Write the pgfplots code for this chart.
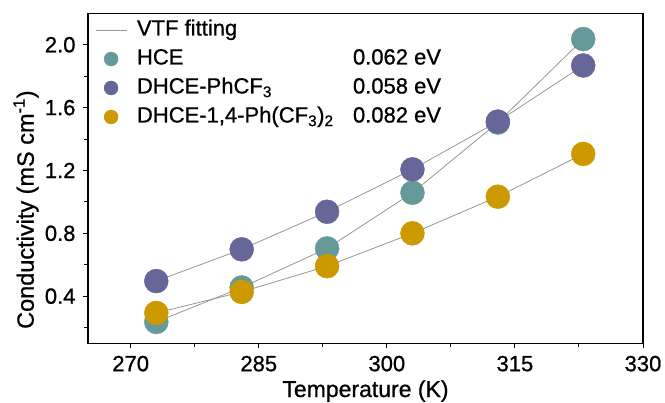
\documentclass[border=0pt]{standalone}
\usepackage{fontspec}
\setmainfont{Liberation Sans}[FakeBold=0.8]
\usepackage{pgfplots}
\pgfplotsset{compat=1.18}
\definecolor{hce}{RGB}{102,153,153}
\definecolor{phc}{RGB}{102,102,153}
\definecolor{dhc}{RGB}{204,153,0}
\definecolor{fitgray}{RGB}{150,150,150}
\newcommand{\fs}{\fontsize{22bp}{26bp}\selectfont}
\begin{document}
\fs
\begin{tikzpicture}
\path[use as bounding box] (-88bp,-59.7bp) rectangle (577bp,343.3bp);
\begin{axis}[
  at={(0,0)}, anchor=south west,
  scale only axis, width=555bp, height=330bp,
  xmin=265, xmax=330, ymin=0.1, ymax=2.2,
  xtick={270,285,300,315,330},
  ytick={0.4,0.8,1.2,1.6,2.0},
  minor xtick={277.5,292.5,307.5,322.5},
  minor ytick={0.2,0.6,1.0,1.4,1.8},
  yticklabel style={/pgf/number format/fixed, /pgf/number format/precision=1, /pgf/number format/fixed zerofill},
  /pgf/number format/assume math mode=true,
  tick align=outside, xtick pos=bottom, ytick pos=left,
  major tick length=5bp, minor tick length=3.5bp,
  axis line style={line width=1.2bp},
  every tick/.style={black, line width=1bp},
  tick label style={font=\fs},
  label style={font=\fs},
  xlabel={Temperature (K)},
  ylabel={Conductivity (mS cm\textsuperscript{-1})},
  xlabel style={at={(axis description cs:0.5,0)}, anchor=base, yshift=-53.7bp, font=\fontsize{23bp}{27bp}\selectfont},
  ylabel style={at={(axis description cs:-0.1117,0.405)}, anchor=center, font=\fontsize{23.5bp}{27bp}\selectfont},
  legend style={at={(axis description cs:0,1)}, anchor=north west, xshift=4bp, yshift=-4bp,
    draw=none, fill=none, font=\fs, row sep=8bp, column sep=10bp,
    nodes={inner sep=0pt, text height=16bp, text depth=5bp}},
  legend cell align=left,
]
\addplot[fitgray, line width=0.8bp, legend image code/.code={\draw[fitgray, line width=0.8bp] (0bp,0bp) -- (31bp,0bp);}]
  coordinates {(273,0.236) (283,0.455) (293,0.704) (303,1.058) (313,1.505) (323,2.036)};
\addlegendentry{VTF fitting}
\addplot[fitgray, line width=0.8bp, forget plot]
  coordinates {(273,0.496) (283,0.698) (293,0.937) (303,1.207) (313,1.511) (323,1.868)};
\addplot[fitgray, line width=0.8bp, forget plot]
  coordinates {(273,0.293) (283,0.427) (293,0.591) (303,0.80) (313,1.033) (323,1.305)};
\pgfplotsset{every axis plot/.append style={legend image code/.code={\draw[mark repeat=2,mark phase=2,##1,mark size=7bp] plot coordinates {(0bp,0bp) (15.5bp,0bp) (31bp,0bp)};}}}
\addplot[only marks, mark=*, mark size=12bp, color=hce, mark options={fill=hce, draw=hce}]
  coordinates {(273,0.236) (283,0.455) (293,0.704) (303,1.058) (313,1.505) (323,2.036)};
\addlegendentry{\makebox[216bp][l]{HCE}0.062 eV}
\addplot[only marks, mark=*, mark size=12bp, color=phc, mark options={fill=phc, draw=phc}]
  coordinates {(273,0.496) (283,0.698) (293,0.937) (303,1.207) (313,1.511) (323,1.868)};
\addlegendentry{\makebox[216bp][l]{DHCE-PhCF\textsubscript{3}}0.058 eV}
\addplot[only marks, mark=*, mark size=12bp, color=dhc, mark options={fill=dhc, draw=dhc}]
  coordinates {(273,0.293) (283,0.427) (293,0.591) (303,0.80) (313,1.033) (323,1.305)};
\addlegendentry{\makebox[216bp][l]{DHCE-1,4-Ph(CF\textsubscript{3})\textsubscript{2}}0.082 eV}
\end{axis}
\end{tikzpicture}
\end{document}
